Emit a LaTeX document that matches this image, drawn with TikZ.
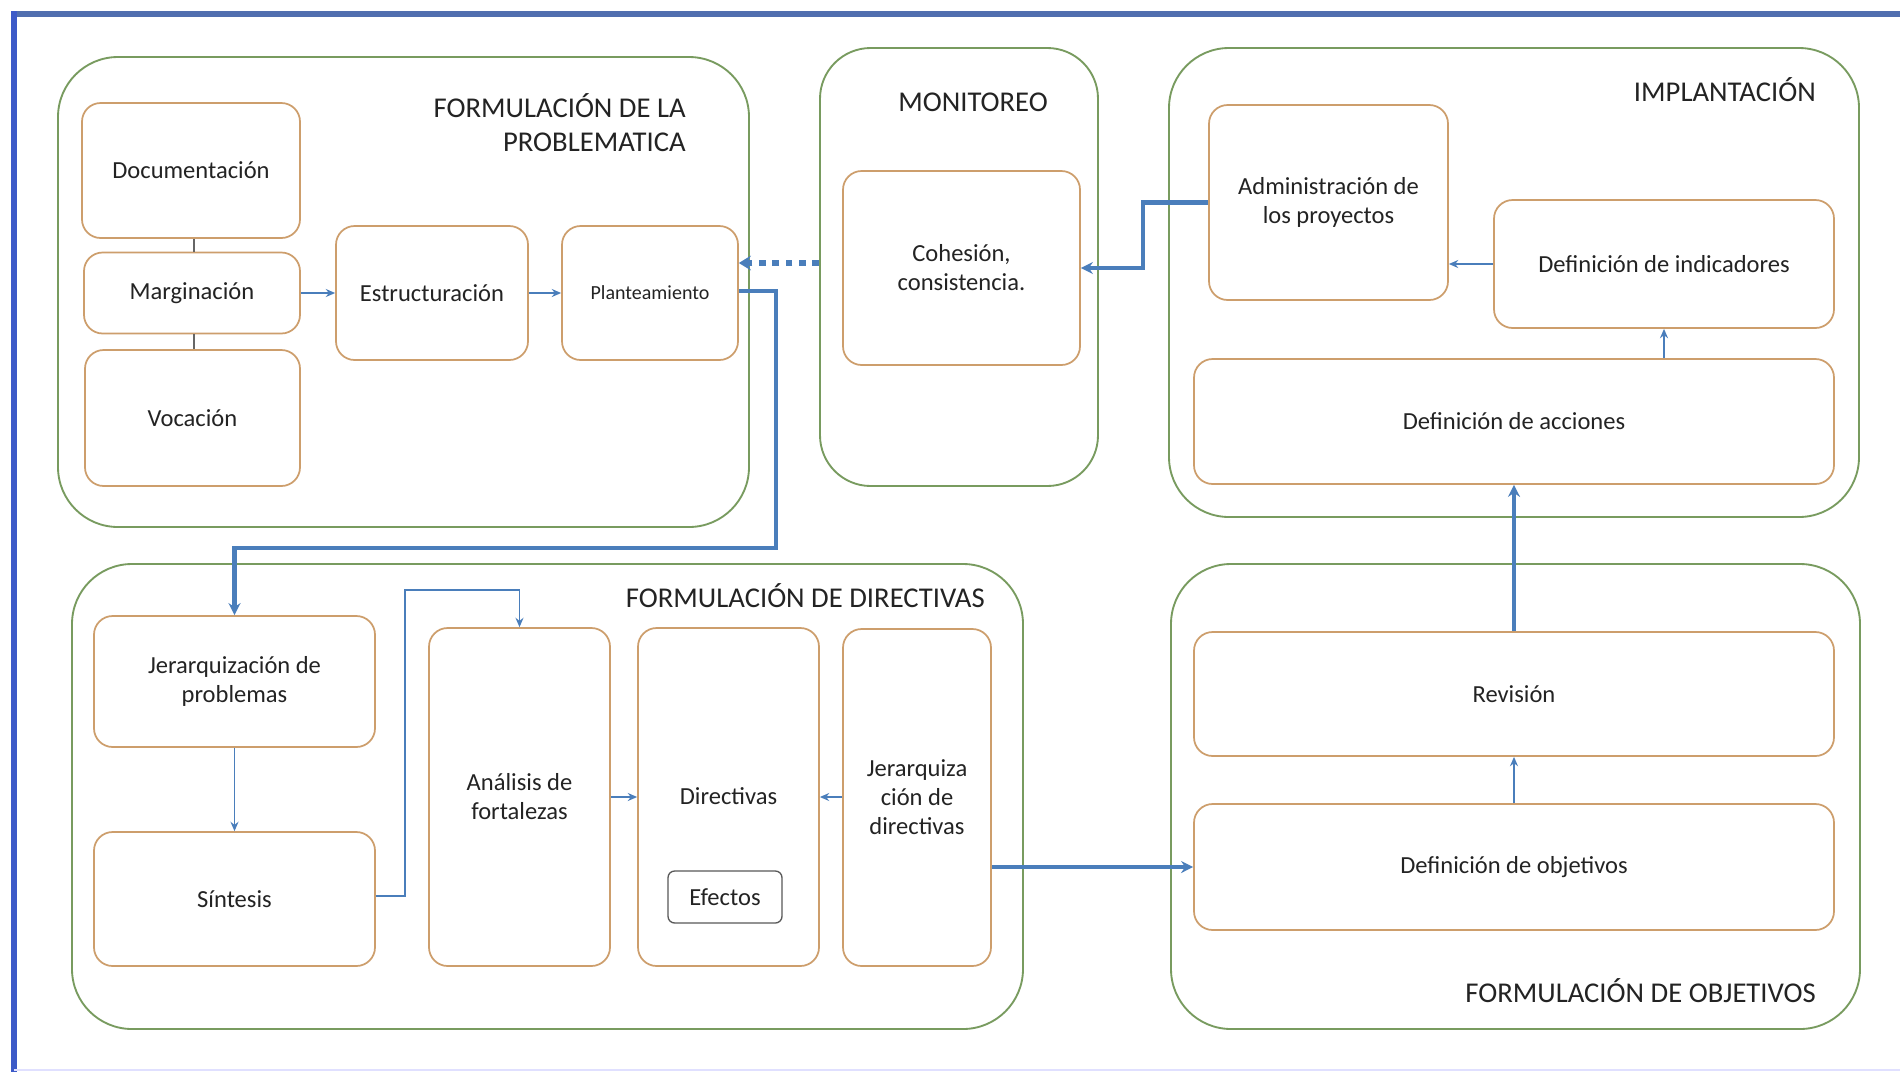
\documentclass[tikz,border=0pt]{standalone}
\usepackage{fontspec}
\setmainfont{Carlito}
\usetikzlibrary{arrows.meta,calc}
\definecolor{grpc}{RGB}{120,155,95}
\definecolor{ibd}{RGB}{205,158,108}
\definecolor{cblue}{RGB}{74,126,187}
\definecolor{txt}{RGB}{35,35,35}
\definecolor{frameL}{RGB}{60,90,200}
\definecolor{frameT}{RGB}{80,110,175}
\def\u{0.75pt}
\begin{document}
\begin{tikzpicture}[x=0.75pt,y=-0.75pt,
  grpbox/.style={draw=grpc, line width=1.4pt, rounded corners=45pt, inner sep=0pt},
  ibox/.style={draw=ibd, line width=1.3pt, rounded corners=14pt, fill=white, inner sep=2pt,
     align=center, text=txt, font=\fontsize{18.4pt}{21.8pt}\selectfont},
  ttl/.style={text=txt, inner sep=0pt, font=\fontsize{21.5pt}{25.5pt}\selectfont},
  thinarr/.style={draw=cblue, line width=1.2pt, -{Stealth[length=7pt,width=6pt]}},
  thickarr/.style={draw=cblue, line width=3.2pt, -{Stealth[length=9pt,width=9pt]}},
  thinline/.style={draw=gray!80!black, line width=1.1pt},
  dotarr/.style={draw=cblue, line width=4pt, dash pattern=on 5pt off 5pt, -{Stealth[length=9pt,width=11pt]}}
]
\useasboundingbox (0,0) rectangle (1900,1072);
\fill[white] (0,0) rectangle (1900,1072);
% frame
\draw[frameT, line width=4.5pt] (11,14) -- (1900,14);
\draw[frameL, line width=4.5pt] (14,11) -- (14,1072);
\draw[blue!12, line width=1.5pt] (14,1070) -- (1900,1070);

% groups
\node[grpbox, minimum width=691*\u, minimum height=470*\u] (gp) at (403.5,292) {};
\node[grpbox, rounded corners=38pt, minimum width=278*\u, minimum height=438*\u] (gm) at (959,267) {};
\node[grpbox, minimum width=690*\u, minimum height=469*\u] (gi) at (1514,282.5) {};
\node[grpbox, minimum width=951*\u, minimum height=465*\u] (gd) at (547.5,796.5) {};
\node[grpbox, minimum width=689*\u, minimum height=465*\u] (go) at (1515.5,796.5) {};

% titles
\node[ttl, align=right, anchor=east] (tp) at (686,123) {FORMULACIÓN DE LA\\PROBLEMATICA};
\node[ttl] (tm) at (973,102) {MONITOREO};
\node[ttl, anchor=east] (ti) at (1816,90) {IMPLANTACIÓN};
\node[ttl, anchor=east] (td) at (985,596) {FORMULACIÓN DE DIRECTIVAS};
\node[ttl, anchor=east] (to) at (1816,991) {FORMULACIÓN DE OBJETIVOS};

% problematica
\node[ibox, minimum width=218*\u, minimum height=135*\u] (doc) at (191,170.5) {Documentación};
\node[ibox, minimum width=216*\u, minimum height=81*\u] (marg) at (192,293) {Marginación};
\node[ibox, minimum width=215*\u, minimum height=136*\u] (voc) at (192.5,418) {Vocación};
\node[ibox, minimum width=192*\u, minimum height=134*\u] (estr) at (432,293) {Estructuración};
\node[ibox, minimum width=176*\u, minimum height=134*\u, font=\fontsize{15pt}{18pt}\selectfont] (plant) at (650,293) {Planteamiento};

% monitoreo
\node[ibox, minimum width=237*\u, minimum height=194*\u] (cohe) at (961.5,268) {Cohesión,\\consistencia.};

% implantacion
\node[ibox, minimum width=239*\u, minimum height=195*\u] (admin) at (1328.5,202.5) {Administración de\\los proyectos};
\node[ibox, minimum width=340*\u, minimum height=128*\u] (indic) at (1664,264) {Definición de indicadores};
\node[ibox, minimum width=640*\u, minimum height=125*\u] (acc) at (1514,421.5) {Definición de acciones};

% directivas
\node[ibox, minimum width=281*\u, minimum height=131*\u] (jp) at (234.5,681.5) {Jerarquización de\\problemas};
\node[ibox, minimum width=281*\u, minimum height=134*\u] (sin) at (234.5,899) {Síntesis};
\node[ibox, minimum width=181*\u, minimum height=338*\u] (ana) at (519.5,797) {Análisis de\\fortalezas};
\node[ibox, minimum width=181*\u, minimum height=338*\u] (dir) at (728.5,797) {};
\node[text=txt, inner sep=0pt, font=\fontsize{18.4pt}{21.8pt}\selectfont] (dirt) at (728.5,796) {Directivas};
\node[ibox, draw=gray!70!black, line width=1pt, rounded corners=5pt, minimum width=114*\u, minimum height=52*\u] (efe) at (725,897) {Efectos};
\node[ibox, minimum width=148*\u, minimum height=337*\u] (jd) at (917,797.5) {Jerarquiza\\ción de\\directivas};

% objetivos
\node[ibox, minimum width=640*\u, minimum height=124*\u] (rev) at (1514,694) {Revisión};
\node[ibox, minimum width=640*\u, minimum height=126*\u] (obj) at (1514,867) {Definición de objetivos};

% helper coordinates
\coordinate (y263) at (0,263);
\coordinate (y291) at (0,291);
\coordinate (y896) at (0,896);
\coordinate (y798) at (0,797);
\coordinate (x194) at (194,0);

% connectors problematica
\draw[thinline] (doc.south -| x194) -- (marg.north -| x194);
\draw[thinline] (marg.south -| x194) -- (voc.north -| x194);
\draw[thinarr] (marg.east) -- (estr.west |- marg.east);
\draw[thinarr] (estr.east) -- (plant.west);

% monitoreo -> planteamiento (dotted)
\draw[dotarr] (gm.west |- y263) -- (plant.east |- y263);

% planteamiento -> jerarquizacion problemas
\draw[thickarr] (plant.east |- y291) -- (776,291) -- (776,548) -| (jp.north);

% implantacion
\draw[thinarr] (indic.south |- acc.north) -- (indic.south);
\draw[thinarr] (indic.west) -- (admin.east |- indic.west);
\draw[thickarr] (admin.west) -- (1143,202.5) |- (cohe.east);

% directivas
\draw[thinarr] (jp.south) -- (sin.north);
\draw[thinarr] (sin.east |- y896) -- (405,896) -- (405,590) -| (ana.north);
\draw[thinarr] (ana.east |- y798) -- (dir.west |- y798);
\draw[thinarr] (jd.west |- y798) -- (dir.east |- y798);
\draw[thickarr] (jd.east |- obj.west) -- (obj.west);

% objetivos
\draw[thinarr] (obj.north) -- (rev.south);
\draw[thickarr] (rev.north) -- (acc.south);
\end{tikzpicture}
\end{document}
